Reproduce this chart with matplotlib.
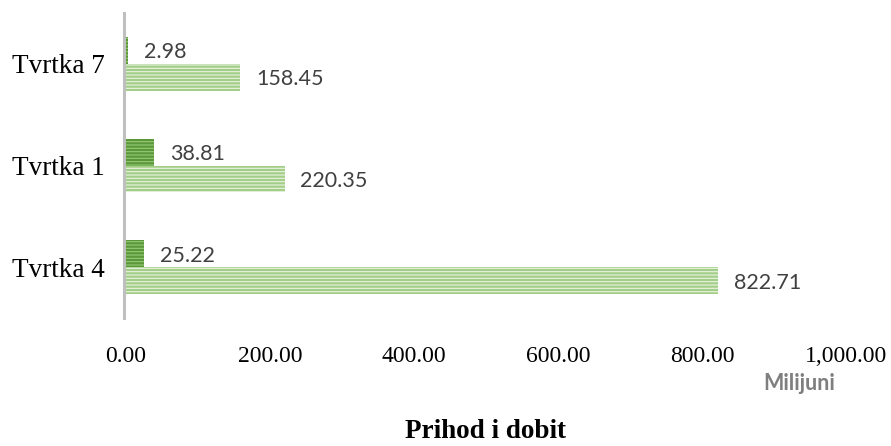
import matplotlib
matplotlib.use("Agg")
import matplotlib.pyplot as plt
import numpy as np

companies = ["Tvrtka 4", "Tvrtka 1", "Tvrtka 7"]
revenue = [822.71, 220.35, 158.45]
profit = [25.22, 38.81, 2.98]
x_ticks = [0, 200, 400, 600, 800, 1000]

plt.rcParams["hatch.linewidth"] = 0.8

fig = plt.figure(figsize=(8.91, 4.46), dpi=100)
ax = fig.add_axes([126 / 891, 1 - 318 / 446, 720 / 891, 305 / 446])

# spine position first: setting it later resets the tick labels
for s in ["top", "right", "bottom"]:
    ax.spines[s].set_visible(False)
ax.spines["left"].set_position(("outward", 1.5))
ax.spines["left"].set_color("#bfbfbf")
ax.spines["left"].set_linewidth(2.2)

y = np.arange(len(companies))
h = 0.265

ax.barh(y - h / 2, revenue, height=h, color="#a3ce87", edgecolor="#eaf4e3",
        linewidth=0, hatch="-----", zorder=3)
ax.barh(y + h / 2, profit, height=h, color="#5a983a", edgecolor="#96c978",
        linewidth=0, hatch="-----", zorder=3)

for yi, v in zip(y, revenue):
    ax.text(v + 22, yi - h / 2, f"{v:,.2f}", va="center_baseline", ha="left",
            fontsize=15.5, color="#404040", family="Lato")
for yi, v in zip(y, profit):
    ax.text(v + 22, yi + h / 2, f"{v:,.2f}", va="center_baseline", ha="left",
            fontsize=15.5, color="#404040", family="Lato")

ax.set_xlim(0, 1000)
ax.set_ylim(-0.5, 2.5)
ax.set_xticks(x_ticks)
ax.set_xticklabels([f"{t:,.2f}" for t in x_ticks], family="Liberation Serif", fontsize=17)
ax.set_yticks(y)
ax.set_yticklabels(companies, family="Liberation Serif", fontsize=19.5)
ax.tick_params(axis="y", length=0, pad=14)
ax.tick_params(axis="x", length=0, pad=20)

fig.text(799 / 891, 1 - 384 / 446, "Milijuni", ha="center", va="center",
         fontsize=15.5, fontweight="bold", color="#7f7f7f", family="Lato")
fig.text(486 / 891, 1 - 432 / 446, "Prihod i dobit", ha="center", va="center",
         fontsize=19.5, fontweight="bold", family="Liberation Serif")

fig.savefig("out.png", dpi=100)
